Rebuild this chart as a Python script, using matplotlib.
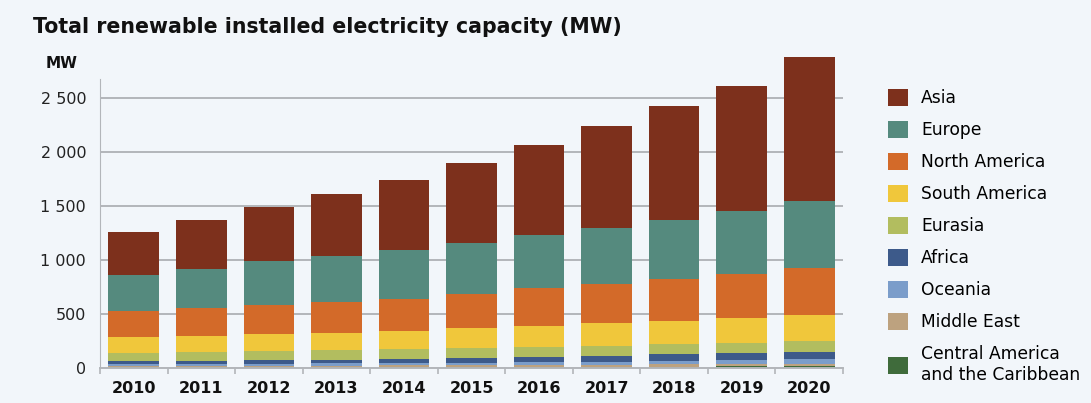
import matplotlib.pyplot as plt
import numpy as np

years = ['2010', '2011', '2012', '2013', '2014', '2015', '2016', '2017', '2018', '2019', '2020']

# values per region, bottom of the stack first
central_america = [7, 8, 8, 9, 10, 11, 12, 13, 14, 15, 16]
middle_east = [12, 12, 13, 14, 15, 16, 17, 18, 20, 22, 25]
oceania = [16, 17, 18, 19, 20, 21, 23, 26, 30, 35, 42]
africa = [28, 31, 33, 36, 39, 44, 50, 55, 62, 68, 67]
eurasia = [80, 77, 83, 86, 91, 90, 90, 92, 93, 94, 100]
south_america = [147, 154, 163, 163, 168, 185, 197, 216, 219, 232, 241]
north_america = [238, 254, 267, 285, 297, 318, 349, 355, 383, 401, 438]
europe = [336, 364, 409, 428, 456, 475, 496, 524, 549, 587, 620]
asia = [392, 453, 500, 571, 645, 735, 827, 942, 1056, 1160, 1336]

regions = ['Central America\nand the Caribbean', 'Middle East', 'Oceania', 'Africa',
           'Eurasia', 'South America', 'North America', 'Europe', 'Asia']
series = [central_america, middle_east, oceania, africa, eurasia,
          south_america, north_america, europe, asia]
colors = ['#3f6b3b', '#bda27f', '#7b9dca', '#3d5a8a', '#b2bd5f',
          '#f0c73b', '#d36a29', '#558a7e', '#7d301c']

bg = '#f2f6fa'
fig = plt.figure(figsize=(10.91, 4.03), dpi=100, facecolor=bg)
ax = fig.add_axes([0.0917, 0.0868, 0.681, 0.777])
ax.set_facecolor(bg)

x = np.arange(len(years))
bottom = np.zeros(len(years))
bars = []
for name, vals, c in zip(regions, series, colors):
    b = ax.bar(x, vals, width=0.75, bottom=bottom, color=c, label=name, zorder=3)
    bars.append(b)
    bottom += np.array(vals)

ax.set_xlim(-0.5, len(years) - 0.5)
ax.set_ylim(0, 2900)
ax.set_yticks([0, 500, 1000, 1500, 2000, 2500])
ax.set_yticklabels(['0', '500', '1 000', '1 500', '2 000', '2 500'], fontsize=11.5, color='#222222')
ax.yaxis.grid(True, color='#b3b6ba', linewidth=1.4, zorder=1)
ax.tick_params(axis='y', length=0, pad=10)

ax.set_xticks(x)
ax.set_xticklabels(years, fontsize=11.5, fontweight='bold', color='#111111')
ax.set_xticks(np.arange(-0.5, len(years), 1), minor=True)
ax.tick_params(axis='x', which='major', length=0, pad=9)
ax.tick_params(axis='x', which='minor', length=4, color='#b3b6ba', width=1.2)

for s in ['top', 'right']:
    ax.spines[s].set_visible(False)
ax.spines['left'].set_color('#b3b6ba')
ax.spines['left'].set_bounds(0, 2680)
ax.spines['bottom'].set_color('#b3b6ba')
ax.spines['bottom'].set_linewidth(1.4)
ax.spines['bottom'].set_zorder(4)

fig.text(0.03, 0.933, 'Total renewable installed electricity capacity (MW)',
         fontsize=14.8, fontweight='bold', color='#111111', va='center')
fig.text(0.042, 0.843, 'MW', fontsize=11, fontweight='bold', color='#111111', va='center')

fig.legend(bars[::-1], regions[::-1], loc='upper left', bbox_to_anchor=(0.808, 0.797),
           frameon=False, fontsize=12.3, handlelength=1.17, handleheight=1.17,
           labelspacing=0.8, handletextpad=0.75, borderaxespad=0)

fig.savefig('out.png', dpi=100, facecolor=bg)
